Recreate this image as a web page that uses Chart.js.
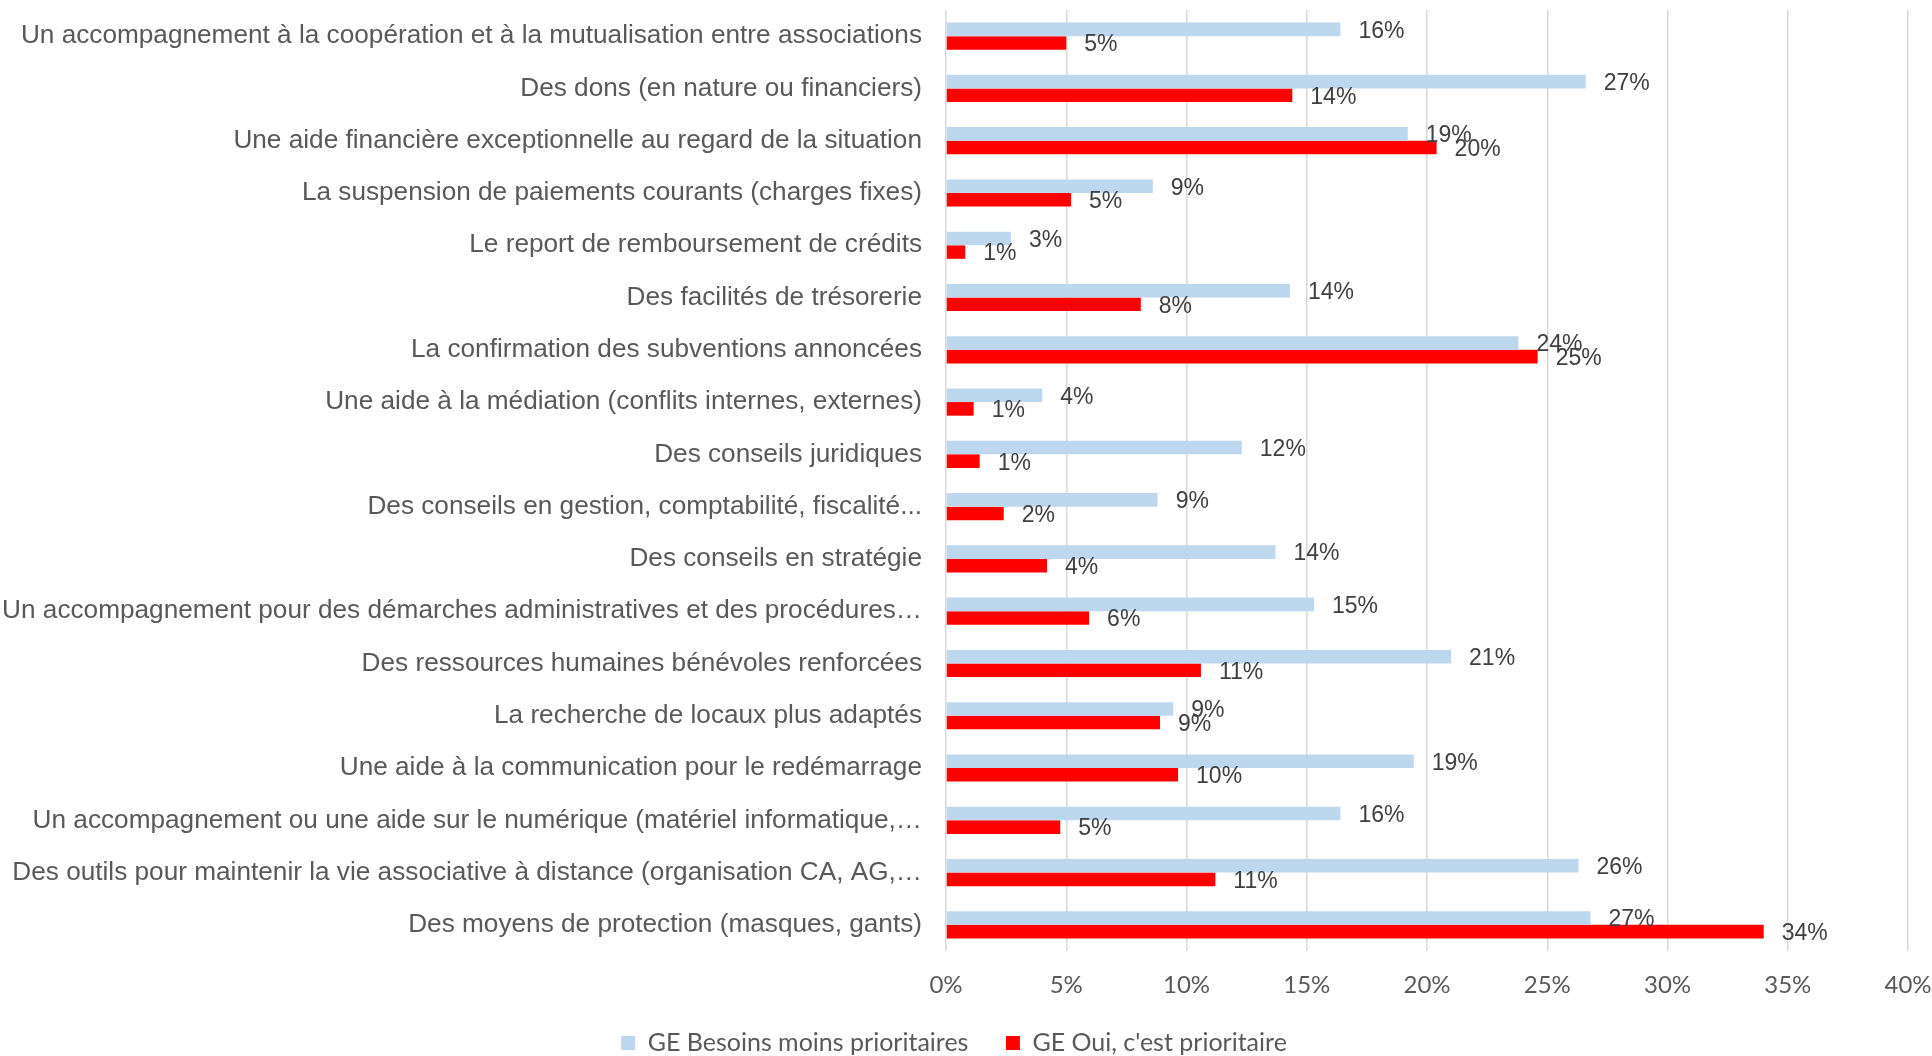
<!DOCTYPE html>
<html>
<head>
<meta charset="utf-8">
<script src="https://cdn.jsdelivr.net/npm/chart.js@4.4.1/dist/chart.umd.min.js"></script>
<style>
html,body{margin:0;padding:0;background:#fff;}
#wrap{position:relative;width:1932px;height:1056px;}
</style>
</head>
<body>
<div id="wrap"><canvas id="c" width="1932" height="1056"></canvas></div>
<script>
const categories = [
  "Un accompagnement à la coopération et à la mutualisation entre associations",
  "Des dons (en nature ou financiers)",
  "Une aide financière exceptionnelle au regard de la situation",
  "La suspension de paiements courants (charges fixes)",
  "Le report de remboursement de crédits",
  "Des facilités de trésorerie",
  "La confirmation des subventions annoncées",
  "Une aide à la médiation (conflits internes, externes)",
  "Des conseils juridiques",
  "Des conseils en gestion, comptabilité, fiscalité...",
  "Des conseils en stratégie",
  "Un accompagnement pour des démarches administratives et des procédures…",
  "Des ressources humaines bénévoles renforcées",
  "La recherche de locaux plus adaptés",
  "Une aide à la communication pour le redémarrage",
  "Un accompagnement ou une aide sur le numérique (matériel informatique,…",
  "Des outils pour maintenir la vie associative à distance (organisation CA, AG,…",
  "Des moyens de protection (masques, gants)"
];
const seriesNames = ["GE Besoins moins prioritaires", "GE Oui, c'est prioritaire"];
const besoinsMoinsPrioritaires = [16.4, 26.6, 19.2, 8.6, 2.7, 14.3, 23.8, 4.0, 12.3, 8.8, 13.7, 15.3, 21.0, 9.45, 19.45, 16.4, 26.3, 26.8];
const ouiPrioritaire = [5.0, 14.4, 20.4, 5.2, 0.8, 8.1, 24.6, 1.15, 1.4, 2.4, 4.2, 5.95, 10.6, 8.9, 9.65, 4.75, 11.2, 34.0];
const xTicks = [0, 5, 10, 15, 20, 25, 30, 35, 40];

const dataLabels = {
  id: 'dataLabels',
  afterDatasetsDraw(chart) {
    const ctx = chart.ctx;
    ctx.save();
    ctx.font = '23px "Liberation Sans", Arial, sans-serif';
    ctx.fillStyle = '#404040';
    ctx.textAlign = 'left';
    ctx.textBaseline = 'middle';
    chart.data.datasets.forEach((ds, di) => {
      const meta = chart.getDatasetMeta(di);
      meta.data.forEach((el, i) => {
        ctx.fillText(Math.round(ds.data[i]) + '%', el.x + 18, el.y + 2);
      });
    });
    ctx.restore();
  }
};

new Chart(document.getElementById('c'), {
  type: 'bar',
  data: {
    labels: categories,
    datasets: [
      { label: seriesNames[0], data: besoinsMoinsPrioritaires, backgroundColor: '#BDD7EE', borderWidth: 0 },
      { label: seriesNames[1], data: ouiPrioritaire, backgroundColor: '#FF0000', borderWidth: 0 }
    ]
  },
  options: {
    indexAxis: 'y',
    responsive: false,
    animation: false,
    devicePixelRatio: 1,
    categoryPercentage: 0.52,
    barPercentage: 1.0,
    layout: { padding: { top: 10, right: 24, left: 0, bottom: -9.5 } },
    plugins: {
      legend: {
        position: 'bottom',
        labels: {
          font: { family: 'Lato', size: 25 },
          color: '#595959',
          boxWidth: 14,
          boxHeight: 14,
          padding: 0,
          generateLabels(chart) {
            const items = Chart.defaults.plugins.legend.labels.generateLabels(chart);
            items.forEach((it, i) => { if (i < items.length - 1) it.text = it.text + '\u2003\u2003'; });
            return items;
          }
        }
      },
      tooltip: { enabled: false }
    },
    scales: {
      x: {
        min: 0, max: 40,
        afterFit(scale) { scale.height = 79.5; },
        afterBuildTicks(scale) { scale.ticks = xTicks.map(v => ({ value: v })); },
        ticks: {
          callback: v => v + '%',
          font: { family: 'Lato', size: 24 },
          color: '#595959',
          padding: 0,
          maxRotation: 0
        },
        grid: { color: '#D9D9D9', lineWidth: 1.5, drawTicks: true, tickLength: 20, tickColor: 'rgba(0,0,0,0)' },
        border: { display: false }
      },
      y: {
        afterFit(scale) { scale.width = 946; },
        ticks: {
          font: { family: '"Liberation Sans"', size: 26.2 },
          color: '#595959',
          padding: -6,
          autoSkip: false
        },
        grid: { display: false, drawTicks: true, tickLength: 30 },
        border: { display: false }
      }
    }
  },
  plugins: [dataLabels]
});
</script>
</body>
</html>
